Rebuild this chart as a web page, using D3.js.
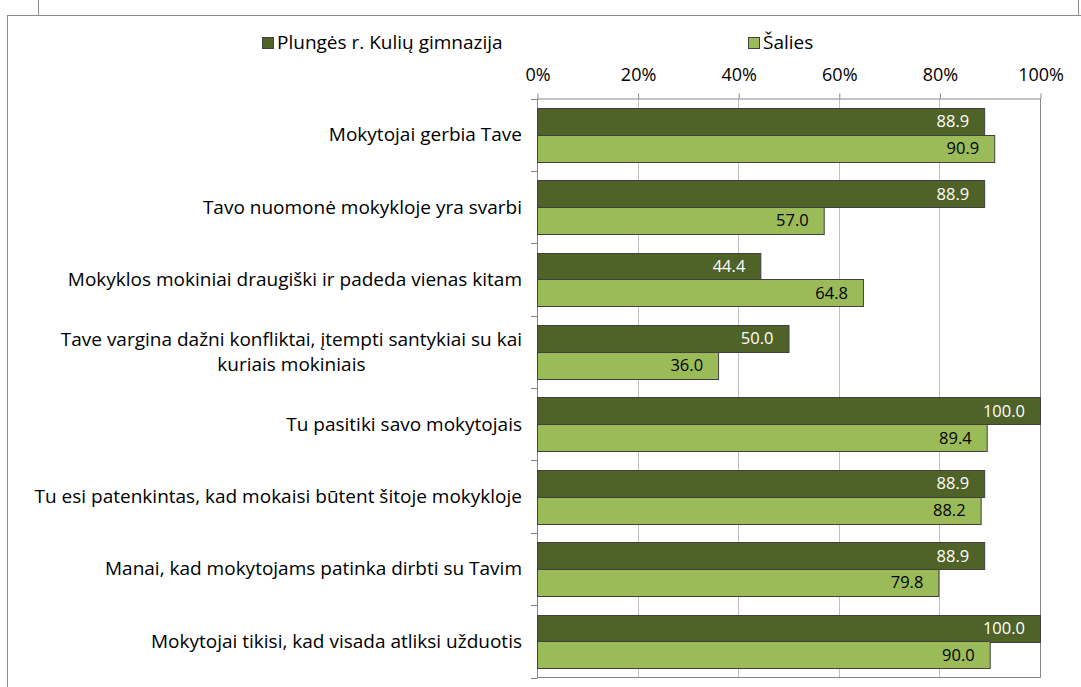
<!DOCTYPE html>
<html>
<head>
<meta charset="utf-8">
<script src="https://cdn.jsdelivr.net/npm/d3@7"></script>
<style>
  html, body { margin: 0; padding: 0; background: #fff; }
  svg { display: block; font-family: "Open Sans", "Noto Sans", sans-serif; }
</style>
</head>
<body>
<svg id="chart" width="1081" height="687"></svg>
<script>
// Survey statements (category axis)
const categories = [
  "Mokytojai gerbia Tave",
  "Tavo nuomonė mokykloje yra svarbi",
  "Mokyklos mokiniai draugiški ir padeda vienas kitam",
  "Tave vargina dažni konfliktai, įtempti santykiai su kai kuriais mokiniais",
  "Tu pasitiki savo mokytojais",
  "Tu esi patenkintas, kad mokaisi būtent šitoje mokykloje",
  "Manai, kad mokytojams patinka dirbti su Tavim",
  "Mokytojai tikisi, kad visada atliksi užduotis"
];
// Share of pupils agreeing, %
const schoolValues = [88.9, 88.9, 44.4, 50.0, 100.0, 88.9, 88.9, 100.0];
const countryValues = [90.9, 57.0, 64.8, 36.0, 89.4, 88.2, 79.8, 90.0];
const seriesNames = ["Plungės r. Kulių gimnazija", "Šalies"];
const tickValues = [0, 20, 40, 60, 80, 100];

const colors = ["#4f6228", "#9bbb59"];
const labelColors = ["#ffffff", "#000000"];
const FONT = "'Open Sans', 'Noto Sans', sans-serif";

const svg = d3.select("#chart");

// Outer frames
svg.append("rect")
  .attr("x", 38.5).attr("y", -10).attr("width", 1040).attr("height", 25.5)
  .attr("fill", "#fff").attr("stroke", "#8c8c8c").attr("stroke-width", 1);
svg.append("rect")
  .attr("x", 7.5).attr("y", 15.5).attr("width", 1100).attr("height", 700)
  .attr("fill", "#fff").attr("stroke", "#8c8c8c").attr("stroke-width", 1);

const plot = { left: 537, right: 1040, top: 98.5, bottom: 677.5 };

const x = d3.scaleLinear().domain([0, 100]).range([plot.left, plot.right]);
const y = d3.scaleBand().domain(categories).range([plot.top, plot.bottom])
  .paddingInner(0.26).paddingOuter(0.13);
const sub = d3.scaleBand().domain([0, 1]).range([0, y.bandwidth()]);

// Gridlines
svg.append("g").selectAll("line")
  .data(tickValues.filter(d => d > 0 && d < 100))
  .join("line")
  .attr("x1", d => Math.round(x(d)) + 0.5).attr("x2", d => Math.round(x(d)) + 0.5)
  .attr("y1", plot.top).attr("y2", plot.bottom)
  .attr("stroke", "#bfbfbf").attr("stroke-width", 1);

// Plot area border (right, bottom)
svg.append("path")
  .attr("d", `M${plot.right + 0.5},${plot.top}V${plot.bottom}H${plot.left}`)
  .attr("fill", "none").attr("stroke", "#868686");

// Top value axis
const xAxis = d3.axisTop(x).tickValues(tickValues).tickFormat(d => d + "%")
  .tickSize(5).tickSizeOuter(0).tickPadding(13);
const gx = svg.append("g").attr("transform", `translate(0.5,${plot.top})`).call(xAxis);
gx.select(".domain").attr("stroke", "#868686");
gx.selectAll(".tick line").attr("stroke", "#868686");
gx.selectAll(".tick text").attr("font-size", 18).attr("fill", "#000")
  .attr("font-family", FONT);

// Left category axis: line and boundary ticks
const bounds = d3.range(categories.length + 1).map(i => plot.top + i * y.step());
svg.append("line")
  .attr("x1", plot.left + 0.5).attr("x2", plot.left + 0.5)
  .attr("y1", plot.top).attr("y2", plot.bottom)
  .attr("stroke", "#868686");
svg.append("g").selectAll("line").data(bounds).join("line")
  .attr("x1", plot.left - 6).attr("x2", plot.left + 0.5)
  .attr("y1", d => Math.round(d) + 0.5).attr("y2", d => Math.round(d) + 0.5)
  .attr("stroke", "#868686");

// Category labels (wrapped, centered block, right edge near axis)
const wrapWidth = 505;
const labelRight = 522;
const catG = svg.append("g").attr("font-size", 19).attr("fill", "#000");
categories.forEach(cat => {
  const t = catG.append("text").attr("text-anchor", "middle");
  const words = cat.split(" ");
  const lines = [];
  let cur = [];
  words.forEach(w => {
    cur.push(w);
    t.text(cur.join(" "));
    if (t.node().getComputedTextLength() > wrapWidth && cur.length > 1) {
      cur.pop();
      lines.push(cur.join(" "));
      cur = [w];
    }
  });
  lines.push(cur.join(" "));
  t.text(null);
  const widths = lines.map(l => { t.text(l); return t.node().getComputedTextLength(); });
  t.text(null);
  const maxW = d3.max(widths);
  const cx = labelRight - maxW / 2;
  const lh = 25;
  const cy = y(cat) + y.bandwidth() / 2;
  lines.forEach((l, i) => {
    t.append("tspan").attr("x", cx)
      .attr("y", cy + (i - (lines.length - 1) / 2) * lh + 6.5)
      .text(l);
  });
});

// Bars
const series = [schoolValues, countryValues];
series.forEach((vals, s) => {
  const g = svg.append("g");
  g.selectAll("rect").data(vals).join("rect")
    .attr("x", plot.left + 0.5)
    .attr("y", (d, i) => Math.round(y(categories[i]) + sub(s)) + 0.5)
    .attr("width", d => x(d) - plot.left)
    .attr("height", Math.round(sub.bandwidth()))
    .attr("fill", colors[s]).attr("stroke", "#404040").attr("stroke-width", 1);
  g.selectAll("text").data(vals).join("text")
    .attr("x", d => x(d) - 15)
    .attr("y", (d, i) => y(categories[i]) + sub(s) + sub.bandwidth() / 2 + 6)
    .attr("text-anchor", "end")
    .attr("font-size", 16.5)
    .attr("fill", labelColors[s])
    .text(d => d.toFixed(1));
});

// Legend
const legendItems = [
  { name: seriesNames[0], color: colors[0], x: 262 },
  { name: seriesNames[1], color: colors[1], x: 748 }
];
const lg = svg.append("g");
legendItems.forEach(it => {
  lg.append("rect").attr("x", it.x + 0.5).attr("y", 37.5).attr("width", 11).attr("height", 11)
    .attr("fill", it.color).attr("stroke", "#404040");
  lg.append("text").attr("x", it.x + 15).attr("y", 49).attr("font-size", 19)
    .attr("fill", "#000").text(it.name);
});
</script>
</body>
</html>
